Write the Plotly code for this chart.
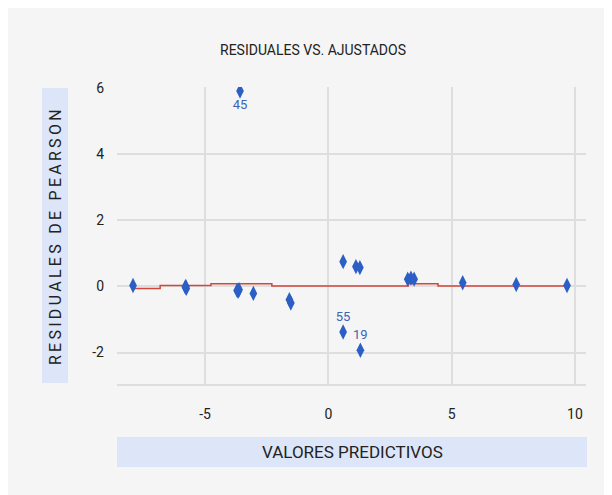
import plotly.graph_objects as go

# ── Data ──────────────────────────────────────────────────────────────────────
fitted = [-7.92, -5.80, -5.78, -5.76, -3.70, -3.66, -3.62, -3.58, -3.04, -1.58, -1.52,
          0.60, 0.60, 1.12, 1.28, 1.30, 3.22, 3.35, 3.48, 5.45, 7.62, 9.68]
resid = [0.03, -0.02, 0.00, -0.06, -0.12, -0.15, -0.10, 5.91, -0.21, -0.40, -0.50,
         0.75, -1.38, 0.60, 0.57, -1.93, 0.22, 0.25, 0.22, 0.11, 0.06, 0.03]
point_ids = ["", "", "", "", "", "", "", "45", "", "", "",
             "", "55", "", "", "19", "", "", "", "", "", ""]

smooth_x = [-7.92, -6.82, -4.76, -2.29, 3.24, 4.45, 9.69]
smooth_y = [-0.06, 0.03, 0.08, 0.01, 0.08, 0.01, 0.01]

x_ticks = [-5, 0, 5, 10]
x_labels = ["-5", "0", "5", "10"]
y_ticks = [-2, 0, 2, 4, 6]
y_labels = ["-2", "0", "2", "4", "6"]

FONT = "Roboto, Arial, sans-serif"
BLUE = "#2c5fc6"
BOX = "#dde6f8"
BG = "#f5f5f5"
INK = "#222222"

# the page body adds an 8px offset; plot area sits at x 109..578, y 79..376
W, H = 612, 495
L, T, PW, PH = 109, 79, 469, 297
R, B = W - L - PW, H - T - PH


def px(xp):
    return (xp - 8 - L) / PW


def py(yp):
    return (T + PH - (yp - 8)) / PH


fig = go.Figure()

# ── Smoother (step line) and points ───────────────────────────────────────────
fig.add_trace(go.Scatter(
    x=smooth_x, y=smooth_y, mode="lines", line_shape="hv",
    line=dict(color="#d2463c", width=1.5), hoverinfo="skip", showlegend=False,
))

text_pos = ["bottom center" if t == "45" else "top center" for t in point_ids]
fig.add_trace(go.Scatter(
    x=fitted, y=resid, mode="markers+text",
    text=point_ids, textposition=text_pos,
    textfont=dict(family=FONT, size=13, color="#3a64b8"),
    marker=dict(symbol="diamond-tall", size=11, color=BLUE),
    showlegend=False,
))

fig.add_hline(y=0, line_dash="dot", line_color="#b5b5b5", line_width=1, layer="below")

# ── Axis title boxes ──────────────────────────────────────────────────────────
fig.add_shape(type="rect", xref="paper", yref="paper",
              x0=px(42), x1=px(68), y0=py(383), y1=py(88),
              fillcolor=BOX, line_width=0, layer="below")
fig.add_shape(type="rect", xref="paper", yref="paper",
              x0=px(117), x1=px(587), y0=py(467), y1=py(437),
              fillcolor=BOX, line_width=0, layer="below")

fig.add_annotation(
    text="VALORES PREDICTIVOS", xref="paper", yref="paper",
    x=px(352), y=py(452), xanchor="center", yanchor="middle", showarrow=False,
    font=dict(family=FONT, size=17, color=INK),
)
fig.add_annotation(
    text="\u2009".join("RESIDUALES DE PEARSON"), xref="paper", yref="paper",
    x=px(56), y=py(237), xanchor="center", yanchor="middle", showarrow=False,
    textangle=-90, font=dict(family=FONT, size=16, color=INK),
)

# ── Layout ────────────────────────────────────────────────────────────────────
fig.update_layout(
    width=W, height=H,
    margin=dict(l=L, r=R, t=T, b=B),
    paper_bgcolor=BG, plot_bgcolor=BG,
    font=dict(family=FONT, size=14, color=INK),
    title=dict(text="RESIDUALES VS. AJUSTADOS", x=(313 - 8) / W, y=1 - (50 - 8) / H,
               xanchor="center", yanchor="middle",
               font=dict(family=FONT, size=14, color=INK)),
)
fig.update_xaxes(
    range=[-8.57, 10.45], tickvals=x_ticks, ticktext=x_labels,
    showgrid=True, gridcolor="#dedede", gridwidth=1.5,
    zeroline=False, showline=True, linecolor="#dedede", linewidth=1.5,
    ticklabelstandoff=16, tickfont=dict(size=14, color=INK),
)
fig.update_yaxes(
    range=[-2.95, 6.03], tickvals=y_ticks, ticktext=y_labels,
    showgrid=True, gridcolor="#dedede", gridwidth=1.5,
    zeroline=False, ticklabelstandoff=12, tickfont=dict(size=14, color=INK),
)

fig.write_html("out.html")
